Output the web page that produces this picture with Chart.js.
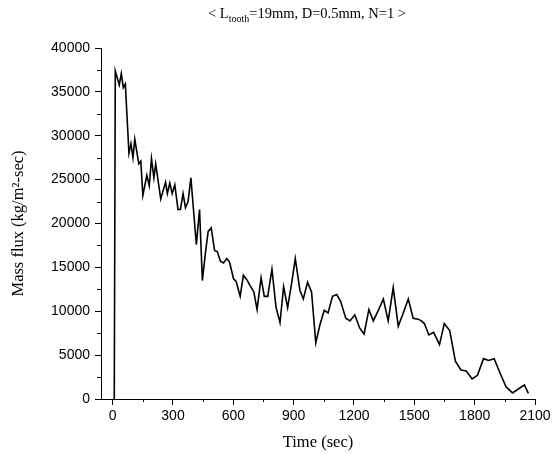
<!DOCTYPE html>
<html>
<head>
<meta charset="utf-8">
<script src="https://cdn.jsdelivr.net/npm/chart.js@4"></script>
<style>
  body { margin: 0; background: #fff; }
  #wrap { width: 558px; height: 454px; }
</style>
</head>
<body>
<div id="wrap"><canvas id="flux-chart" width="558" height="454"></canvas></div>
<script>
// time (sec) and mass flux (kg/m2-sec)
const times = [8, 13, 33, 43, 53, 63, 81, 91, 101, 110, 130, 140, 150, 170, 182, 193, 205, 214,
    239, 263, 272, 284, 296, 309, 325, 337, 350, 362, 375, 389, 416, 432, 446, 462, 475, 490,
    507, 520, 536, 551, 568, 581, 601, 614, 634, 650, 667, 684, 702, 718, 738, 754, 771, 792,
    812, 832, 850, 870, 890, 908, 931, 948, 969, 989, 1010, 1030, 1052, 1071, 1093, 1114, 1134,
    1159, 1180, 1204, 1228, 1250, 1274, 1296, 1321, 1346, 1370, 1395, 1420, 1445, 1470, 1494,
    1519, 1535, 1550, 1572, 1596, 1625, 1649, 1676, 1704, 1732, 1758, 1787, 1814, 1844, 1869,
    1897, 1927, 1956, 1988, 2021, 2047, 2067];
const massFlux = [0, 37400, 35800, 37100, 35500, 35900, 28000, 29100, 27500, 29600, 26800, 27100,
    23200, 25500, 24300, 27400, 25200, 26800, 22800, 24700, 23400, 24600, 23400, 24400, 21600,
    21600, 23400, 21800, 22500, 25200, 17600, 21600, 13500, 16800, 19100, 19500, 16900, 16800,
    15700, 15500, 16000, 15600, 13700, 13400, 11700, 14100, 13600, 12900, 12200, 10200, 13800,
    11700, 11700, 14800, 10500, 8700, 12800, 10400, 13200, 16000, 12400, 11400, 13300, 12200,
    6400, 8400, 10100, 9800, 11700, 11900, 11100, 9200, 8900, 9600, 8100, 7400, 10200, 8900,
    10100, 11400, 8900, 12700, 8300, 9800, 11400, 9200, 9100, 8900, 8600, 7300, 7600, 6200,
    8600, 7800, 4300, 3300, 3200, 2300, 2700, 4600, 4400, 4600, 2900, 1400, 700, 1200, 1600, 650];

// labelled ticks
const xTicks = [0, 300, 600, 900, 1200, 1500, 1800, 2100];
const yTicks = [0, 5000, 10000, 15000, 20000, 25000, 30000, 35000, 40000];

const serif = 'Liberation Serif';
const sans = 'Liberation Sans';

// title with a subscript, drawn by hand
const titlePlugin = {
    id: 'subTitle',
    afterDraw(chart) {
        const ctx = chart.ctx;
        const parts = [
            { t: '< L', size: 14.5, dy: 0 },
            { t: 'tooth', size: 10, dy: 4 },
            { t: '=19mm, D=0.5mm, N=1 >', size: 14.5, dy: 0 }
        ];
        ctx.save();
        ctx.fillStyle = '#000';
        ctx.textBaseline = 'alphabetic';
        let total = 0;
        parts.forEach(p => {
            ctx.font = p.size + 'px "' + serif + '"';
            p.w = ctx.measureText(p.t).width;
            total += p.w;
        });
        let x = 307 - total / 2;
        parts.forEach(p => {
            ctx.font = p.size + 'px "' + serif + '"';
            ctx.fillText(p.t, x, 18 + p.dy);
            x += p.w;
        });
        ctx.restore();
    }
};

// shorter minor ticks half way between the labelled ones
const minorTicks = {
    id: 'minorTicks',
    afterDraw(chart) {
        const ctx = chart.ctx;
        const xs = chart.scales.x, ys = chart.scales.y;
        ctx.save();
        ctx.strokeStyle = '#000';
        ctx.lineWidth = 1;
        ctx.beginPath();
        for (let i = 0; i < xs.ticks.length - 1; i++) {
            const v = (xs.ticks[i].value + xs.ticks[i + 1].value) / 2;
            const px = Math.round(xs.getPixelForValue(v)) + 0.5;
            ctx.moveTo(px, xs.top);
            ctx.lineTo(px, xs.top + 3);
        }
        for (let i = 0; i < ys.ticks.length - 1; i++) {
            const v = (ys.ticks[i].value + ys.ticks[i + 1].value) / 2;
            const py = Math.round(ys.getPixelForValue(v)) + 0.5;
            ctx.moveTo(ys.right, py);
            ctx.lineTo(ys.right - 4, py);
        }
        ctx.stroke();
        ctx.restore();
    }
};

new Chart(document.querySelector('#flux-chart').getContext('2d'), {
    type: 'line',
    data: {
        datasets: [{
            data: times.map((t, i) => ({ x: t, y: massFlux[i] })),
            borderColor: '#000',
            borderWidth: 1.6,
            pointRadius: 0,
            tension: 0,
            fill: false
        }]
    },
    options: {
        responsive: false,
        animation: false,
        layout: { padding: { top: 48, right: 23, left: 0, bottom: 0 } },
        plugins: {
            legend: { display: false },
            tooltip: { enabled: false }
        },
        scales: {
            x: {
                type: 'linear',
                min: -58,
                max: 2100,
                afterFit: scale => { scale.height = 55; },
                afterBuildTicks: scale => { scale.ticks = xTicks.map(v => ({ value: v })); },
                grid: { drawOnChartArea: false, drawTicks: true, tickLength: 6, color: '#000' },
                border: { display: true, color: '#000', width: 1 },
                ticks: {
                    autoSkip: false,
                    maxRotation: 0,
                    padding: 3,
                    color: '#000',
                    font: { family: sans, size: 14 },
                    callback: v => String(v)
                },
                title: {
                    display: true,
                    text: 'Time (sec)',
                    color: '#000',
                    font: { family: serif, size: 16.5 },
                    padding: { top: 0, bottom: 1 }
                }
            },
            y: {
                min: 0,
                max: 40000,
                afterFit: scale => { scale.width = 101; },
                afterBuildTicks: scale => { scale.ticks = yTicks.map(v => ({ value: v })); },
                grid: { drawOnChartArea: false, drawTicks: true, tickLength: 6, color: '#000' },
                border: { display: true, color: '#000', width: 1 },
                ticks: {
                    autoSkip: false,
                    padding: 5,
                    color: '#000',
                    font: { family: sans, size: 14 },
                    callback: v => String(v)
                },
                title: {
                    display: true,
                    text: 'Mass flux (kg/m²-sec)',
                    color: '#000',
                    font: { family: serif, size: 16.5 },
                    padding: { top: 9, bottom: 0 }
                }
            }
        }
    },
    plugins: [titlePlugin, minorTicks]
});
</script>
</body>
</html>
